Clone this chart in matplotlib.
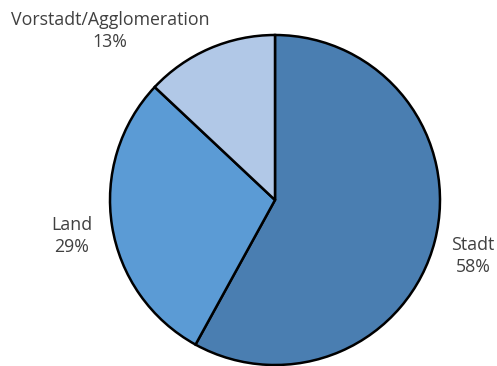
import matplotlib
matplotlib.use("Agg")
import matplotlib.pyplot as plt

categories = ["Stadt", "Land", "Vorstadt/Agglomeration"]
shares = [58, 29, 13]
colors = ["#4A7EB1", "#5B9BD5", "#B1C8E7"]

W, H = 497, 366
fig = plt.figure(figsize=(W / 100, H / 100), dpi=100)
ax = fig.add_axes([0, 0, 1, 1])

ax.pie(shares, colors=colors, startangle=90, counterclock=False,
       center=(275, H - 200), radius=165, frame=True,
       wedgeprops=dict(edgecolor="black", linewidth=1.8))
ax.set_xlim(0, W)
ax.set_ylim(0, H)
ax.set_aspect("equal")
ax.axis("off")

label_pos = {"Stadt": (473, 256), "Land": (72, 236),
             "Vorstadt/Agglomeration": (110, 31)}
for cat, val in zip(categories, shares):
    x, y = label_pos[cat]
    ax.text(x, H - y, f"{cat}\n{val}%", ha="center", va="center",
            fontsize=12.8, color="#404040", family="Open Sans", linespacing=1.3)

fig.savefig("out.png", dpi=100)
